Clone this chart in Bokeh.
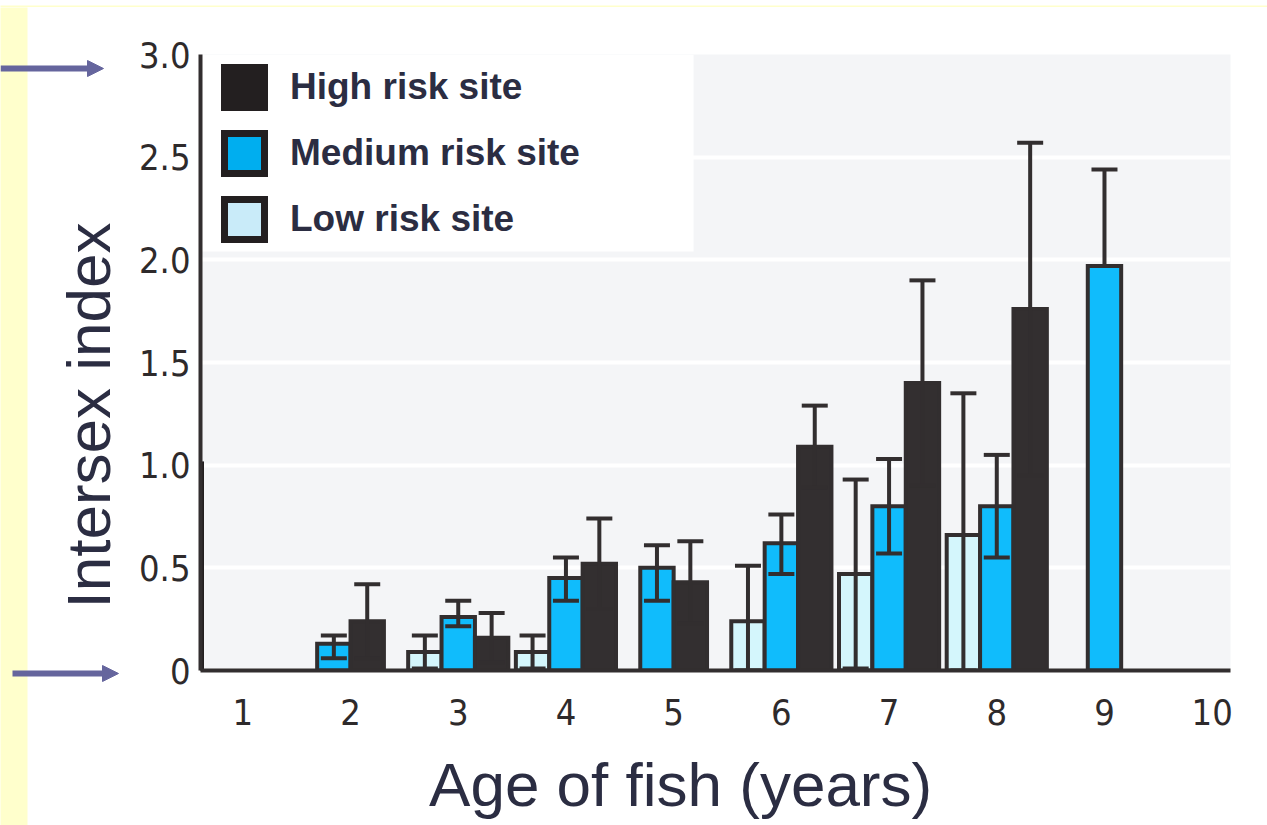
import math
from bokeh.plotting import figure
from bokeh.layouts import column, row
from bokeh.models import (ColumnDataSource, Whisker, TeeHead, Legend, LegendItem,
                          BoxAnnotation, FixedTicker, Range1d, PrintfTickFormatter)
from bokeh.core.properties import value
from bokeh.embed import file_html
from bokeh.resources import INLINE

# ---------------- data ----------------
ages = [1, 2, 3, 4, 5, 6, 7, 8, 9, 10]
age_labels = ["1", "2", "3", "4", "5", "6", "7", "8", "9", "10"]

low_vals = [None, None, 0.09, 0.09, None, 0.24, 0.47, 0.66, None, None]
low_upper = [None, None, 0.17, 0.17, None, 0.51, 0.93, 1.35, None, None]
low_lower = [None, None, 0.01, 0.01, None, 0.0, 0.01, 0.0, None, None]

med_vals = [None, 0.13, 0.26, 0.45, 0.50, 0.62, 0.80, 0.80, 1.97, None]
med_upper = [None, 0.17, 0.34, 0.55, 0.61, 0.76, 1.03, 1.05, 2.44, None]
med_lower = [None, 0.06, 0.215, 0.34, 0.34, 0.47, 0.57, 0.55, 1.97, None]

high_vals = [None, 0.24, 0.16, 0.52, 0.43, 1.09, 1.40, 1.76, None, None]
high_upper = [None, 0.42, 0.28, 0.74, 0.63, 1.29, 1.90, 2.57, None, None]

y_ticks = [0, 0.5, 1.0, 1.5, 2.0, 2.5, 3.0]

series_names = ["Low risk site", "Medium risk site", "High risk site"]
x_title = "Age of fish (years)"
y_title = "Intersex index"

bar_colors = ["#d4f6fc", "#10bcfc", "#332f30"]
legend_colors = ["#c9ebf9", "#00aeef", "#231f20"]
DARK = "#322e2f"
TEXT = "#2b2d42"
YELLOW = "#ffffcc"
ARROW = "#65659d"

high_lower = [None if v is None else max(0.0, 2 * v - u) for v, u in zip(high_vals, high_upper)]
series_vals = [low_vals, med_vals, high_vals]
series_up = [low_upper, med_upper, high_upper]
series_lo = [low_lower, med_lower, high_lower]

# ---------------- positions (dodge within each age group) ----------------
bar_w = 0.31
bars = {k: dict(x=[], top=[]) for k in range(3)}
err = dict(base=[], lower=[], upper=[])
for i, age in enumerate(ages):
    present = [k for k in range(3) if series_vals[k][i] is not None]
    n = len(present)
    for j, k in enumerate(present):
        x = age + (j - (n - 1) / 2) * bar_w
        bars[k]["x"].append(x)
        bars[k]["top"].append(series_vals[k][i])
        err["base"].append(x)
        err["lower"].append(series_lo[k][i])
        err["upper"].append(series_up[k][i])


def blank(width, height, xr, yr, bg="white"):
    f = figure(width=width, height=height, x_range=Range1d(*xr), y_range=Range1d(*yr),
               output_backend="svg", toolbar_location=None,
               x_axis_location=None, y_axis_location=None,
               min_border=0, min_border_left=0, min_border_right=0,
               min_border_top=0, min_border_bottom=0)
    f.background_fill_color = bg
    f.border_fill_color = bg
    f.outline_line_color = None
    f.xgrid.visible = False
    f.ygrid.visible = False
    return f


W, H = 1267, 825
TOP = 7        # yellow strip at the top of the slide
LEFT_W = 130   # left decoration column
BOT_H = 85     # x-title strip

# ---------------- top yellow strip ----------------
top_fig = blank(W, TOP, (0, W), (-TOP, 0), bg=YELLOW)

# ---------------- left column: yellow strip, arrows, y title ----------------
left = blank(LEFT_W, H - TOP, (0, LEFT_W), (-H, -TOP))
left.quad(left=[-5], right=[27], bottom=[-H - 5], top=[0], fill_color=YELLOW, line_color=None)
for (xs, ys, xt) in [(0, 68, 103), (12, 673, 118)]:
    left.segment(x0=[xs], y0=[-ys], x1=[xt - 12], y1=[-ys], line_color=ARROW, line_width=6)
    left.patch(x=[xt - 16, xt, xt - 16], y=[-ys + 8, -ys, -ys - 8],
               fill_color=ARROW, line_color=ARROW, line_width=1)
left.text(x=[88], y=[-415], text=[y_title], angle=math.pi / 2,
          text_font=value("Liberation Sans"), text_font_size="62px", text_color=TEXT,
          text_align="center", text_baseline="middle")

# ---------------- bottom strip: x title ----------------
bottom = blank(W - LEFT_W, BOT_H, (LEFT_W, W), (-H, -(H - BOT_H)))
bottom.text(x=[660], y=[-784], text=[x_title],
            text_font=value("Liberation Sans"), text_font_size="62px", text_color=TEXT,
            text_align="center", text_baseline="middle")

# ---------------- main chart ----------------
p = figure(width=W - LEFT_W, height=H - TOP - BOT_H,
           x_range=Range1d(0.607, 10.17), y_range=Range1d(0, 3.0),
           output_backend="svg", toolbar_location=None,
           min_border_left=200 - LEFT_W, min_border_right=37,
           min_border_top=47, min_border_bottom=70)
p.background_fill_color = "#f4f5f7"
p.border_fill_color = "white"
p.outline_line_color = None

p.xgrid.visible = False
p.ygrid.ticker = FixedTicker(ticks=y_ticks)
p.ygrid.grid_line_color = "white"
p.ygrid.grid_line_width = 4

# white legend panel
p.add_layout(BoxAnnotation(left=0.607, right=5.185, bottom=2.04, top=3.0,
                           fill_color="white", fill_alpha=1, line_color=None,
                           level="underlay"))

for k in range(3):
    src = ColumnDataSource(bars[k])
    p.vbar(x="x", top="top", bottom=0, width=bar_w, source=src,
           fill_color=bar_colors[k], line_color=DARK, line_width=4, line_join="miter")

p.add_layout(Whisker(source=ColumnDataSource(err), base="base", lower="lower", upper="upper",
                     dimension="height", line_color=DARK, line_width=4, level="annotation",
                     upper_head=TeeHead(size=26, line_color=DARK, line_width=4),
                     lower_head=TeeHead(size=26, line_color=DARK, line_width=4)))

# legend-only renderers (placed outside the visible x range)
leg_r = []
for k in range(3):
    r = p.vbar(x=[-5], top=[1], width=bar_w, fill_color=legend_colors[k],
               line_color="#231f20", line_width=7, line_join="miter")
    leg_r.append(r)
legend = Legend(items=[LegendItem(label=series_names[2], renderers=[leg_r[2]]),
                       LegendItem(label=series_names[1], renderers=[leg_r[1]]),
                       LegendItem(label=series_names[0], renderers=[leg_r[0]])],
                location=(19, 426), margin=0, padding=0, spacing=16,
                glyph_width=50, glyph_height=50, label_standoff=21,
                label_text_font="Liberation Sans", label_text_font_style="bold",
                label_text_font_size="37px", label_text_color=TEXT,
                label_text_baseline="middle",
                background_fill_alpha=0, border_line_color=None)
p.add_layout(legend)

# axes
for ax in (p.xaxis[0], p.yaxis[0]):
    ax.axis_line_color = DARK
    ax.axis_line_width = 4
    ax.major_tick_line_color = None
    ax.minor_tick_line_color = None
    ax.major_label_text_font = "DejaVu Sans Condensed"
    ax.major_label_text_font_size = "36px"
    ax.major_label_text_color = "#2e2a2b"

p.xaxis.ticker = FixedTicker(ticks=ages)
p.xaxis.major_label_overrides = {a: l for a, l in zip(ages, age_labels)}
p.xaxis.major_label_standoff = 22

p.yaxis.ticker = FixedTicker(ticks=y_ticks)
p.yaxis.formatter = PrintfTickFormatter(format="%.1f")
p.yaxis.major_label_overrides = {0: "0"}
p.yaxis.major_label_standoff = 4

layout = column(top_fig, row(left, column(p, bottom, spacing=0), spacing=0), spacing=0)

open("out.html", "w").write(file_html(layout, INLINE))
